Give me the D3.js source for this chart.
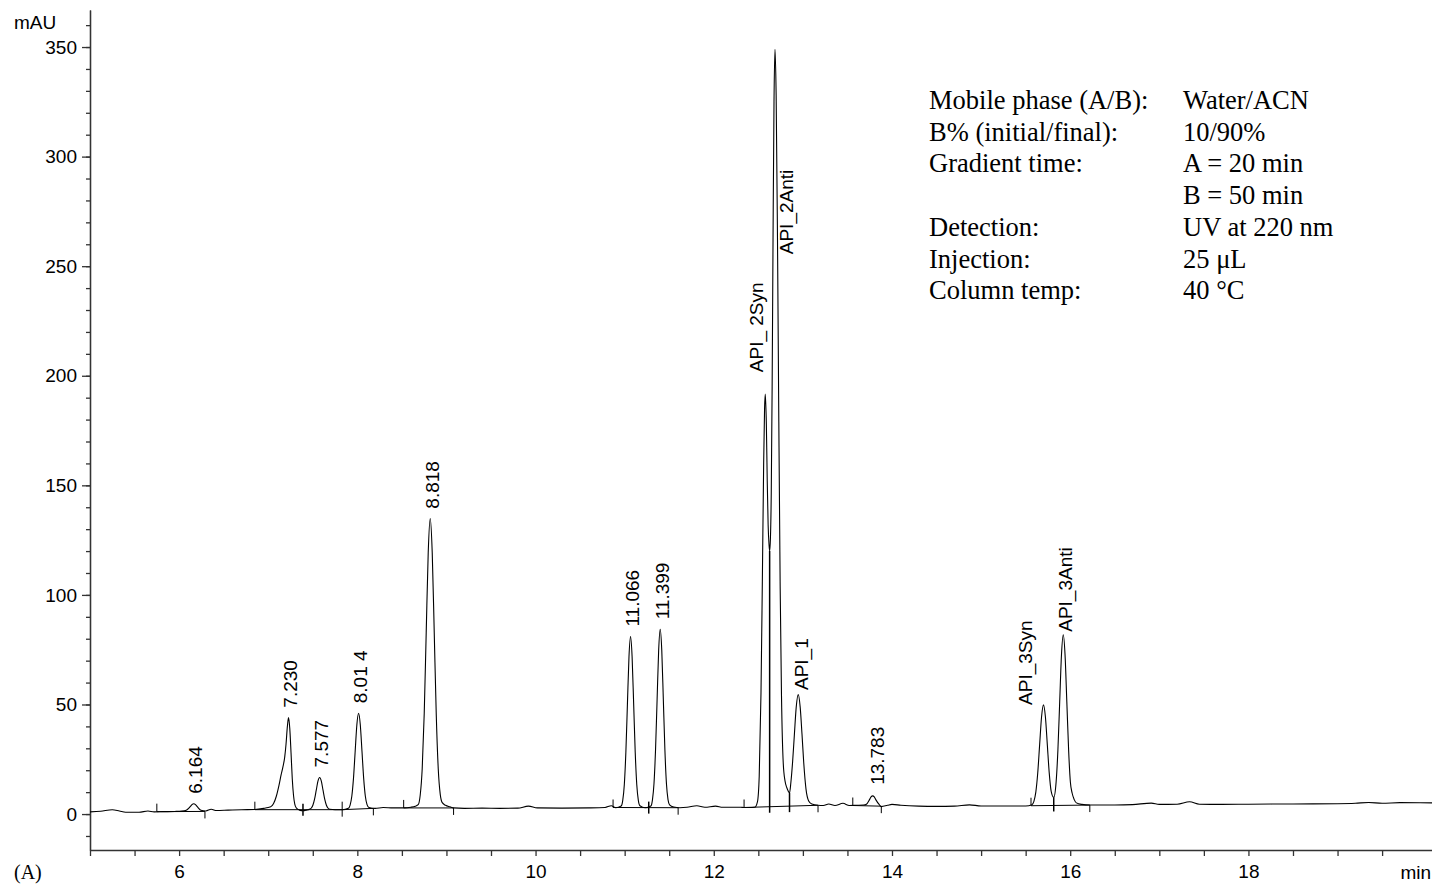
<!DOCTYPE html>
<html>
<head>
<meta charset="utf-8">
<script src="https://cdn.jsdelivr.net/npm/d3@7"></script>
<style>
  body { margin: 0; background: #fff; }
  svg { display: block; }
</style>
</head>
<body>
<script>
// detector trace (time in min, signal in mAU)
const traceTime = [
  5.00, 5.12, 5.25, 5.33, 5.40, 5.55, 5.65, 5.72, 5.82, 5.95, 6.03,
  6.08, 6.124, 6.144, 6.164, 6.184, 6.204, 6.244, 6.30, 6.36, 6.42, 6.55, 6.70, 6.85, 6.95,
  7.00, 7.03, 7.06, 7.09, 7.12, 7.145, 7.165, 7.185, 7.20, 7.215, 7.228, 7.242, 7.256, 7.27,
  7.284, 7.298, 7.315, 7.35, 7.39, 7.43,
  7.463, 7.482, 7.501, 7.52, 7.539, 7.558, 7.577, 7.596, 7.615, 7.634, 7.653, 7.672, 7.691,
  7.75, 7.83,
  7.90, 7.919, 7.938, 7.957, 7.976, 7.995, 8.014, 8.033, 8.052, 8.071, 8.09, 8.109, 8.13,
  8.20, 8.29, 8.40, 8.52, 8.60, 8.65,
  8.683, 8.7055, 8.728, 8.7505, 8.773, 8.7955, 8.818, 8.8405, 8.863, 8.8855, 8.908, 8.9305,
  8.953, 8.99, 9.04, 9.08,
  9.20, 9.40, 9.60, 9.80, 9.92, 10.02, 10.30, 10.60, 10.78, 10.85, 10.90,
  10.961, 10.9785, 10.996, 11.0135, 11.031, 11.0485, 11.066, 11.0835, 11.101, 11.1185,
  11.136, 11.1535, 11.171, 11.23,
  11.294, 11.3115, 11.329, 11.3465, 11.364, 11.3815, 11.399, 11.4165, 11.434, 11.4515,
  11.469, 11.4865, 11.504, 11.55, 11.62,
  11.70, 11.81, 11.90, 12.02, 12.10, 12.30, 12.34, 12.40, 12.46,
  12.49, 12.51, 12.53, 12.545, 12.56, 12.57, 12.578, 12.59, 12.60, 12.61, 12.62, 12.627,
  12.636, 12.645, 12.655, 12.665, 12.676, 12.687, 12.70, 12.715, 12.73, 12.745, 12.76,
  12.78, 12.80, 12.82, 12.835, 12.85,
  12.865, 12.885, 12.905, 12.925, 12.948, 12.97, 12.99, 13.01, 13.035, 13.065, 13.10, 13.17,
  13.23, 13.29, 13.36, 13.45, 13.52, 13.60, 13.68,
  13.713, 13.748, 13.765, 13.783, 13.801, 13.818, 13.853, 13.88, 13.95,
  14.00, 14.10, 14.30, 14.50, 14.70, 14.87, 15.00, 15.20, 15.40, 15.50,
  15.571, 15.5925, 15.614, 15.6355, 15.657, 15.6785, 15.70, 15.7215, 15.743, 15.7645, 15.786,
  15.815, 15.842, 15.862, 15.882, 15.902, 15.922, 15.942, 15.962, 15.982, 16.002, 16.022,
  16.045, 16.07, 16.13, 16.22,
  16.50, 16.70, 16.91, 17.00, 17.20, 17.34, 17.45, 17.70, 18.00, 18.50, 19.00, 19.20,
  19.35, 19.50, 19.70, 20.06
]
const traceMAU = [
  1.0, 1.3, 2.0, 1.4, 0.8, 0.8, 1.4, 1.0, 1.1, 1.2, 1.35,
  1.76, 3.36, 4.3, 4.7, 4.3, 3.36, 1.76, 1.4, 2.2, 1.6, 1.8, 2.0, 2.1, 2.6,
  3.0, 3.4, 4.8, 8, 13, 18, 21.5, 26, 32, 40, 44, 39, 28, 16,
  8.5, 4.5, 2.8, 1.8, 1.5, 1.8,
  2.2, 2.65, 4.0, 6.8, 10.9, 15.0, 16.7, 15.0, 10.9, 6.8, 4.0, 2.65, 2.2,
  2.0, 2.0,
  2.69, 4.12, 8.13, 16.4, 28.8, 40.9, 46.0, 40.9, 28.8, 16.4, 8.13, 4.3, 3.0,
  2.6, 3.0, 2.8, 2.8, 3.1, 3.6,
  4.3, 8.6, 20.7, 45.7, 82.9, 119.3, 134.8, 119.3, 82.9, 45.7, 20.7, 9.0,
  5.2, 4.0, 3.3, 2.8,
  2.6, 2.7, 2.6, 2.7, 3.6, 2.8, 2.7, 2.8, 3.0, 3.8, 2.9,
  3.67, 6.23, 13.4, 28.2, 50.2, 71.8, 81.0, 71.8, 50.2, 28.2,
  13.4, 6.23, 3.8, 2.9,
  3.7, 6.38, 13.8, 29.3, 52.2, 74.7, 84.3, 74.7, 52.2, 29.3,
  13.8, 6.6, 4.2, 3.2, 2.9,
  3.1, 3.8, 3.1, 3.6, 3.1, 3.1, 3.0, 3.0, 3.1,
  5.6, 17.3, 55.4, 106, 160.5, 185, 191.6, 178, 152, 132, 123, 120,
  126, 146, 195, 262, 325, 349, 328, 263, 179, 104, 54,
  23, 15, 12, 10.5, 9.6,
  14.3, 24, 36.5, 48.7, 54.5, 48.7, 36.5, 23.2, 11.4, 6.0, 4.6, 4.0,
  3.9, 4.6, 3.9, 4.9, 3.9, 4.0, 4.1,
  4.5, 6.6, 7.8, 8.3, 7.8, 6.6, 4.5, 3.4, 4.0,
  4.4, 4.0, 3.6, 3.5, 3.6, 4.2, 3.7, 3.7, 3.7, 3.7,
  4.3, 5.8, 10.0, 18.7, 31.7, 44.4, 49.8, 44.4, 31.7, 18.8, 10.5,
  7.6, 14.7, 29.3, 51.2, 72.7, 81.8, 72.7, 51.2, 29.3, 14.5, 9.5,
  6.6, 5.1, 4.4, 4.1,
  4.1, 4.3, 5.0, 4.4, 4.5, 5.6, 4.5, 4.4, 4.5, 4.6, 4.7, 4.9,
  5.3, 4.9, 5.2, 5.1
]

// labelled peaks: apex time, apex signal, label text
const peakTimes  = [6.164, 7.230, 7.577, 8.014, 8.818, 11.066, 11.399, 12.578, 12.687, 12.948, 13.783, 15.700, 15.922]
const peakApex   = [4.7, 44, 16.7, 46, 134.8, 81, 84.3, 191.6, 349, 54.5, 8.3, 49.8, 81.8]
const peakLabels = ['6.164', '7.230', '7.577', '8.01 4', '8.818', '11.066', '11.399',
                    'API_ 2Syn', 'API_2Anti', 'API_1', '13.783', 'API_3Syn', 'API_3Anti']

// integration baselines (start/end time and level) and drop lines
const intStart      = [5.75, 6.85, 7.83, 8.52, 10.87, 12.34, 13.56, 15.56]
const intEnd        = [6.29, 7.83, 8.18, 9.08, 11.60, 13.17, 13.88, 16.22]
const intStartLevel = [1.1, 2.0, 2.0, 2.8, 3.0, 3.0, 3.9, 3.8]
const intEndLevel   = [1.2, 2.0, 2.6, 2.8, 2.9, 4.0, 3.6, 4.1]
const dropTime  = [7.39, 11.27, 12.627, 12.85, 15.815]
const dropLevel = [1.5, 2.9, 120, 9.6, 7.6]

// axis ticks
const yMajorTicks = [0, 50, 100, 150, 200, 250, 300, 350]
const yMinorTicks = d3.range(-10, 361, 10)
const xTicks = d3.range(5, 19.6, 0.5)
const xLabelled = [6, 8, 10, 12, 14, 16, 18]

// method conditions box
const infoLabels = ['Mobile phase (A/B):', 'B% (initial/final):', 'Gradient time:', '',
                    'Detection:', 'Injection:', 'Column temp:']
const infoValues = ['Water/ACN', '10/90%', 'A = 20 min', 'B = 50 min',
                    'UV at 220 nm', '25 \u03BCL', '40 \u00B0C']

const SANS = '"Liberation Sans", Arial, Helvetica, sans-serif'
const SERIF = '"Liberation Serif", "Times New Roman", Times, serif'

// label nudges in px: [dx, gap above apex]
const labelNudge = {
  'API_ 2Syn': [-8.6, 22],
  'API_2Anti': [11.7, -205],
  'API_1': [3.5, 4.6],
  '13.783': [5, 11],
  'API_3Syn': [-18.4, 0],
  'API_3Anti': [1.8, 3]
}

const W = 1432, H = 885
const x = d3.scaleLinear().domain([5, 20.06]).range([90, 1432])
const y = d3.scaleLinear().domain([-16.4, 366.9]).range([850, 10])

const svg = d3.select('body').append('svg')
    .attr('width', W)
    .attr('height', H)

// y axis
const yMinor = d3.axisLeft(y).tickValues(yMinorTicks).tickSize(4).tickSizeOuter(0).tickFormat('')
const yMajor = d3.axisLeft(y).tickValues(yMajorTicks).tickSize(8).tickPadding(5).tickSizeOuter(0)
svg.append('g').attr('transform', 'translate(90,0)').call(yMinor)
svg.append('g').attr('class', 'yaxis').attr('transform', 'translate(90,0)').call(yMajor)

// x axis
const xAxis = d3.axisBottom(x).tickValues(xTicks).tickSize(6).tickPadding(9).tickSizeOuter(0)
    .tickFormat(d => xLabelled.includes(d) ? d : '')
svg.append('g').attr('class', 'xaxis').attr('transform', 'translate(0,850)').call(xAxis)

svg.selectAll('.domain, .tick line')
    .attr('stroke', '#333')
    .attr('stroke-width', 1.3)
svg.selectAll('.tick text')
    .attr('font-family', SANS)
    .attr('font-size', 19)
    .attr('fill', '#000')

svg.append('text')
    .attr('x', 14).attr('y', 29)
    .attr('font-family', SANS).attr('font-size', 19)
    .text('mAU')
svg.append('text')
    .attr('x', 1431).attr('y', 879)
    .attr('text-anchor', 'end')
    .attr('font-family', SANS).attr('font-size', 19)
    .text('min')
svg.append('text')
    .attr('x', 14).attr('y', 879)
    .attr('font-family', SERIF).attr('font-size', 20)
    .text('(A)')

// integration baselines + start/end marks
const ib = svg.append('g').attr('stroke', '#000').attr('stroke-width', 1)
intStart.forEach((t0, i) => {
  const t1 = intEnd[i]
  const y0 = y(intStartLevel[i]), y1 = y(intEndLevel[i])
  ib.append('line').attr('x1', x(t0)).attr('y1', y0).attr('x2', x(t1)).attr('y2', y1)
  ib.append('line').attr('x1', x(t0)).attr('y1', y0).attr('x2', x(t0)).attr('y2', y0 - 8)
  ib.append('line').attr('x1', x(t1)).attr('y1', y1).attr('x2', x(t1)).attr('y2', y1 + 7)
})
dropTime.forEach((t, i) => {
  const g = intStart.findIndex((s, k) => t > s && t < intEnd[k])
  const lvl = intStartLevel[g] + (intEndLevel[g] - intStartLevel[g]) * (t - intStart[g]) / (intEnd[g] - intStart[g])
  const yb = y(lvl)
  ib.append('line')
      .attr('x1', x(t)).attr('x2', x(t))
      .attr('y1', yb + 6)
      .attr('y2', Math.min(y(dropLevel[i]), yb - 6))
      .attr('stroke-width', 1.5)
})

// signal
const pts = traceTime.map((t, i) => [t, traceMAU[i]])
const line = d3.line()
    .x(d => x(d[0]))
    .y(d => y(d[1]))
    .curve(d3.curveMonotoneX)
svg.append('path')
    .datum(pts)
    .attr('fill', 'none')
    .attr('stroke', '#000')
    .attr('stroke-width', 1.1)
    .attr('d', line)

// peak labels, rotated
svg.append('g').selectAll('text')
    .data(peakLabels).enter()
    .append('text')
    .attr('font-family', SANS)
    .attr('font-size', 19)
    .attr('dy', '0.35em')
    .attr('transform', (d, i) => {
      const n = labelNudge[d] || [2, 10]
      return `translate(${x(peakTimes[i]) + n[0]},${y(peakApex[i]) - n[1]}) rotate(-90)`
    })
    .text(d => d)

// method box
const info = svg.append('g').attr('font-family', SERIF).attr('font-size', 26.5)
infoLabels.forEach((s, i) => {
  info.append('text').attr('x', 929).attr('y', 109 + i * 31.7).text(s)
  info.append('text').attr('x', 1183).attr('y', 109 + i * 31.7).text(infoValues[i])
})
</script>
</body>
</html>
